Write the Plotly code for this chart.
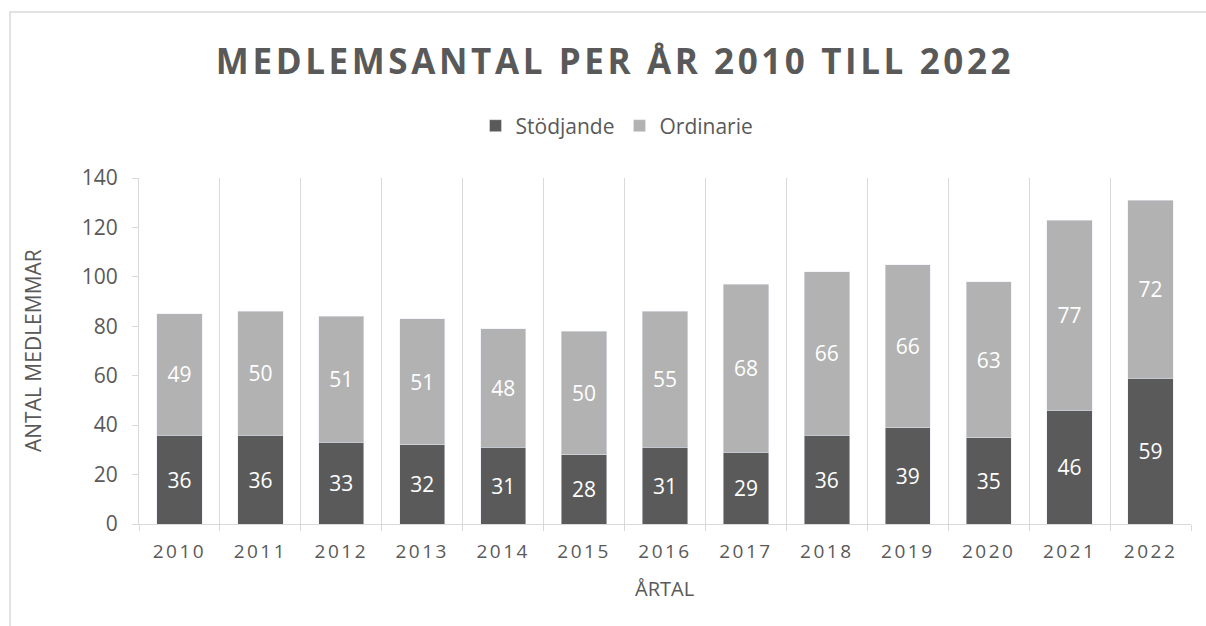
import plotly.graph_objects as go

years = ["2010", "2011", "2012", "2013", "2014", "2015", "2016",
         "2017", "2018", "2019", "2020", "2021", "2022"]
stodjande = [36, 36, 33, 32, 31, 28, 31, 29, 36, 39, 35, 46, 59]
ordinarie = [49, 50, 51, 51, 48, 50, 55, 68, 66, 66, 63, 77, 72]

title_text = "MEDLEMSANTAL PER ÅR 2010 TILL 2022"
x_title = "ÅRTAL"
y_title = "ANTAL MEDLEMMAR"

DARK = "#5a5a5a"
LIGHT = "#b2b2b2"
TXT = "#595959"
GRID = "#d9d9d9"
FONT = "Open Sans"

fig = go.Figure()
fig.add_trace(go.Bar(
    x=years, y=stodjande, name="Stödjande", marker_color=DARK,
    text=stodjande, texttemplate="%{text}", textposition="inside",
    insidetextanchor="middle", textangle=0,
    textfont=dict(color="white", size=21, family=FONT),
))
fig.add_trace(go.Bar(
    x=years, y=ordinarie, name="Ordinarie", marker_color=LIGHT,
    text=ordinarie, texttemplate="%{text}", textposition="inside",
    insidetextanchor="middle", textangle=0,
    textfont=dict(color="white", size=21, family=FONT),
))

W, H = 1206, 626
L, R, T, B = 139, 15, 178, 102
pw = W - L - R
ph = H - T - B

def px_x(x):
    return (x - L) / pw

def px_y(y):
    return (H - B - y) / ph

fig.update_layout(
    width=W, height=H,
    margin=dict(l=L, r=R, t=T, b=B, pad=0),
    barmode="stack", bargap=0.44,
    paper_bgcolor="white", plot_bgcolor="white",
    font=dict(family=FONT, color=TXT, size=20),
    title=dict(text="<b>" + title_text + "</b>", x=615 / W, xref="container",
               xanchor="center", y=1 - 62 / H, yref="container", yanchor="middle",
               font=dict(size=35, color=TXT, family=FONT)),
    legend=dict(orientation="h", x=px_x(617), xanchor="center",
                y=px_y(126), yanchor="middle",
                font=dict(size=21, color=TXT, family=FONT),
                itemwidth=30, traceorder="normal", bgcolor="rgba(0,0,0,0)"),
    xaxis=dict(type="category", tickson="boundaries", showgrid=True,
               gridcolor=GRID, gridwidth=1, ticks="outside", ticklen=6,
               tickcolor=GRID, showline=True, linecolor=GRID, linewidth=1,
               ticklabelstandoff=10,
               tickfont=dict(size=19, color=TXT, family=FONT)),
    yaxis=dict(range=[0, 140], dtick=20, showgrid=False, ticks="outside",
               ticklen=6, tickcolor=GRID, showline=True, linecolor=GRID,
               linewidth=1, zeroline=False, ticklabelstandoff=10,
               tickfont=dict(size=21, color=TXT, family=FONT)),
    annotations=[
        dict(text=y_title, xref="paper", yref="paper", x=px_x(33), y=px_y(351),
             xanchor="center", yanchor="middle", textangle=-90, showarrow=False,
             font=dict(size=21, color=TXT, family=FONT)),
        dict(text=x_title, xref="paper", yref="paper", x=px_x(664), y=px_y(588),
             xanchor="center", yanchor="middle", showarrow=False,
             font=dict(size=20, color=TXT, family=FONT)),
    ],
    shapes=[
        dict(type="rect", xref="paper", yref="paper",
             x0=px_x(10), x1=px_x(1230), y0=px_y(12), y1=px_y(660),
             line=dict(color=GRID, width=1.5), fillcolor="rgba(0,0,0,0)",
             layer="below"),
    ],
)

post = """
var gd = document.getElementById('{plot_id}');
function ls(){
  gd.querySelectorAll('.gtitle').forEach(function(t){t.style.letterSpacing='3.6px';});
  gd.querySelectorAll('.xtick text').forEach(function(t){t.style.letterSpacing='2.5px';});
}
ls();
gd.on('plotly_afterplot', ls);
"""

fig.write_html("out.html", post_script=post)
